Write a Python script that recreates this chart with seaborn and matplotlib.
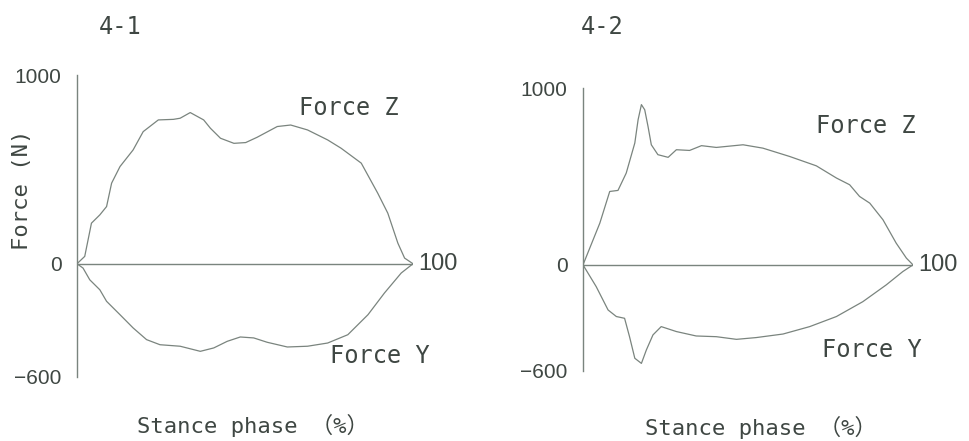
import matplotlib
matplotlib.use("Agg")
import matplotlib.pyplot as plt
import seaborn as sns
import pandas as pd

# ---- data ----
z1_x = [0, 2.3, 4.3, 6.8, 8.8, 10.3, 12.8, 16.7, 19.7, 24.2, 28.7, 30.7, 33.7, 37.7, 39.7,
        42.7, 46.7, 50.2, 53.6, 59.6, 63.6, 68.6, 74.6, 78.6, 84.6, 89.5, 92.5, 95.5, 97.5, 100]
z1_y = [0, 39, 215, 259, 303, 427, 515, 603, 700, 762, 765, 771, 801, 762, 718,
        665, 638, 642, 670, 727, 735, 709, 656, 612, 533, 374, 268, 109, 30, 0]
y1_x = [0, 1.8, 3.8, 6.8, 8.8, 12.8, 16.7, 20.7, 24.7, 30.7, 36.7, 40.7, 44.7, 48.6,
        52.6, 56.6, 62.6, 68.6, 74.6, 80.6, 86.6, 91.5, 96.5, 100]
y1_y = [0, -23, -85, -138, -199, -270, -340, -402, -429, -437, -464, -446, -411, -388,
        -393, -416, -441, -437, -420, -376, -270, -155, -49, 0]

z2_x = [0, 5.1, 8.1, 10.6, 13.1, 15.7, 16.7, 17.7, 18.7, 19.7, 20.7, 22.7, 25.8, 28.3,
        32.3, 35.9, 40.4, 48.5, 54.5, 62.6, 70.7, 76.8, 80.8, 83.8, 86.9, 90.9, 94.9, 98.0, 100]
z2_y = [0, 236, 415, 421, 519, 689, 821, 906, 877, 783, 679, 623, 608, 651,
        647, 674, 664, 679, 660, 613, 560, 491, 453, 387, 349, 255, 123, 38, 0]
y2_x = [0, 4.0, 7.6, 10.1, 12.6, 14.1, 15.7, 17.7, 19.2, 21.2, 23.7, 28.3, 34.3, 40.4,
        46.5, 52.5, 60.6, 68.7, 76.8, 84.8, 91.9, 96.9, 100]
y2_y = [0, -123, -255, -292, -302, -406, -528, -557, -481, -396, -349, -377, -402, -406,
        -421, -411, -391, -349, -292, -208, -113, -38, 0]

panel_titles = ["4-1", "4-2"]
series_names = ["Force Z", "Force Y"]
y_ticks = [-600, 0, 1000]
x_end_label = "100"
xlabel = "Stance phase \uff08%\uff09"
ylabel = "Force (N)"

rows = []
for panel, (zx, zy, yx, yy) in zip(panel_titles, [(z1_x, z1_y, y1_x, y1_y), (z2_x, z2_y, y2_x, y2_y)]):
    for x, v in zip(zx, zy):
        rows.append((panel, "Force Z", x, v))
    for x, v in zip(yx, yy):
        rows.append((panel, "Force Y", x, v))
df = pd.DataFrame(rows, columns=["panel", "series", "phase", "force"])

sns.set_style("white")
MONO = ["DejaVu Sans Mono", "Noto Sans CJK JP"]
NUM = ["Liberation Sans", "DejaVu Sans"]
TXT = "#3f4743"
LINE = "#7a847e"

fig = plt.figure(figsize=(9.70, 4.41), dpi=100)
W, H = 970, 441
axes_px = [(77, 75, 336, 302), (583, 88, 330, 283)]
label_pos = [((66, 825), (75.3, -487)), ((70.6, 785), (72.4, -480))]
title_px = [(120, 27), (602, 27)]
xlabel_px = [(253, 425), (761, 427)]

for i, panel in enumerate(panel_titles):
    l, t, w, h = axes_px[i]
    ax = fig.add_axes([l / W, 1 - (t + h) / H, w / W, h / H])
    sub = df[df.panel == panel]
    sns.lineplot(data=sub, x="phase", y="force", hue="series", units="series",
                 estimator=None, palette=[LINE, LINE], legend=False, ax=ax,
                 linewidth=0.9, sort=False)
    ax.axhline(0, color=LINE, lw=1.0, xmin=0, xmax=1)
    ax.set_xlim(0, 100)
    ax.set_ylim(-600, 1000)
    for s in ["top", "right", "bottom"]:
        ax.spines[s].set_visible(False)
    ax.spines["left"].set_color(LINE)
    ax.spines["left"].set_linewidth(1.0)
    ax.set_xticks([])
    ax.set_yticks(y_ticks)
    ax.set_yticklabels([str(v).replace("-", "\u2212") for v in y_ticks],
                       fontsize=15, family=NUM, color=TXT)
    ax.tick_params(axis="y", length=0, pad=11)
    ax.set_xlabel("")
    ax.set_ylabel("")
    ax.patch.set_alpha(0)
    ax.text(101.5, 0, x_end_label, fontsize=17, family=NUM, color=TXT,
            va="center", ha="left", clip_on=False)
    (zx_, zy_), (yx_, yy_) = label_pos[i]
    ax.text(zx_, zy_, series_names[0], fontsize=17, family=MONO, color=TXT,
            va="center", ha="left")
    ax.text(yx_, yy_, series_names[1], fontsize=17, family=MONO, color=TXT,
            va="center", ha="left")
    tx, ty = title_px[i]
    fig.text(tx / W, 1 - ty / H, panel, fontsize=17, family=MONO, color=TXT,
             ha="center", va="center")
    lx, ly = xlabel_px[i]
    fig.text(lx / W, 1 - ly / H, xlabel, fontsize=16, family=MONO, color=TXT,
             ha="center", va="center")

fig.text(22 / W, 1 - 190 / H, ylabel, fontsize=16, family=MONO, color=TXT,
         rotation=90, ha="center", va="center")

fig.savefig("out.png", dpi=100, facecolor="white")
